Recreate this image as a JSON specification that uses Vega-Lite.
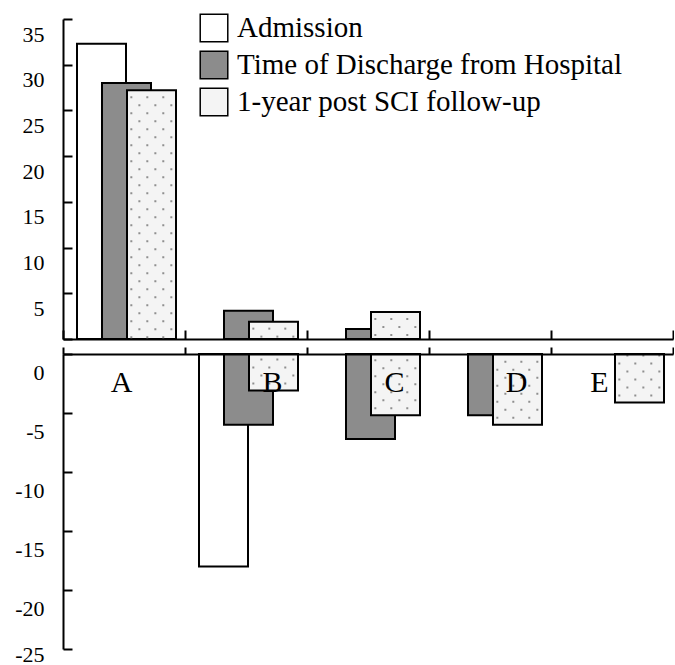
{
  "$schema": "https://vega.github.io/schema/vega-lite/v6.json",
  "padding": {"left": 14, "top": 13, "right": 0, "bottom": 0},
  "spacing": 6,
  "background": "white",
  "config": {
    "font": "Liberation Serif",
    "view": {"stroke": null},
    "axis": {"domainColor": "black", "tickColor": "black", "domainWidth": 2, "tickWidth": 2, "labelColor": "black", "labelFont": "Liberation Serif", "labelFontSize": 22, "grid": false, "title": null}
  },
  "datasets": {
    "bars": [
      {"group": "A", "series": "Admission", "value": 32.3},
      {"group": "B", "series": "Admission", "value": -18.0},
      {"group": "A", "series": "Time of Discharge from Hospital", "value": 28.0},
      {"group": "B", "series": "Time of Discharge from Hospital", "value": 3.1},
      {"group": "C", "series": "Time of Discharge from Hospital", "value": 1.1},
      {"group": "B", "series": "Time of Discharge from Hospital", "value": -6.0},
      {"group": "C", "series": "Time of Discharge from Hospital", "value": -7.2},
      {"group": "D", "series": "Time of Discharge from Hospital", "value": -5.2},
      {"group": "A", "series": "1-year post SCI follow-up", "value": 27.2},
      {"group": "B", "series": "1-year post SCI follow-up", "value": 1.9},
      {"group": "C", "series": "1-year post SCI follow-up", "value": 2.95},
      {"group": "B", "series": "1-year post SCI follow-up", "value": -3.1},
      {"group": "C", "series": "1-year post SCI follow-up", "value": -5.2},
      {"group": "D", "series": "1-year post SCI follow-up", "value": -6.0},
      {"group": "E", "series": "1-year post SCI follow-up", "value": -4.1}
    ]
  },
  "resolve": {"scale": {"y": "independent"}, "legend": {"fill": "independent"}},
  "vconcat": [
    {
      "width": 610,
      "height": 320,
      "data": {"name": "bars"},
      "transform": [{"filter": "datum.value > 0"}],
      "encoding": {
        "x": {"field": "group", "type": "nominal", "scale": {"domain": ["A", "B", "C", "D", "E"], "paddingInner": 0, "paddingOuter": 0},
              "axis": {"orient": "bottom", "labels": false, "tickBand": "extent", "tickSize": -9}},
        "y": {"field": "value", "type": "quantitative", "stack": null, "scale": {"domain": [0, 35], "nice": false},
              "axis": {"values": [0, 5, 10, 15, 20, 25, 30, 35], "labelExpr": "datum.value == 0 ? '' : datum.label", "tickSize": -9, "labelPadding": 28, "labelOffset": 15}}
      },
      "layer": [
        {
          "mark": {"type": "bar", "stroke": "black", "strokeWidth": 2, "width": 49},
          "encoding": {
            "xOffset": {"field": "series", "type": "nominal", "sort": ["Admission", "Time of Discharge from Hospital", "1-year post SCI follow-up"], "scale": {"range": [26, 101]}},
            "fill": {"field": "series", "type": "nominal", "sort": ["Admission", "Time of Discharge from Hospital", "1-year post SCI follow-up"],
                     "scale": {"domain": ["Admission", "Time of Discharge from Hospital", "1-year post SCI follow-up"], "range": ["#ffffff", "#8c8c8c", "#f4f4f4"]},
                     "legend": {"orient": "none", "legendX": 136, "legendY": -6, "title": null, "symbolType": "square", "symbolSize": 760, "symbolStrokeColor": "black", "symbolStrokeWidth": 1.5, "symbolOpacity": 1, "labelFontSize": 29, "labelFont": "Liberation Serif", "labelColor": "black", "rowPadding": 3, "labelOffset": 8, "labelLimit": 500}}
          }
        },
        {
          "transform": [{"filter": "datum.series == '1-year post SCI follow-up'"}],
          "mark": {"type": "rule", "color": "#8f8f8f", "strokeWidth": 2, "strokeDash": [2, 14], "strokeDashOffset": 10},
          "encoding": {"x": {"field": "group", "type": "nominal", "bandPosition": 0.56}, "y2": {"datum": 0}}
        },
        {
          "transform": [{"filter": "datum.series == '1-year post SCI follow-up'"}],
          "mark": {"type": "rule", "color": "#8f8f8f", "strokeWidth": 2, "strokeDash": [2, 14], "strokeDashOffset": 2},
          "encoding": {"x": {"field": "group", "type": "nominal", "bandPosition": 0.626}, "y2": {"datum": 0}}
        },
        {
          "transform": [{"filter": "datum.series == '1-year post SCI follow-up'"}],
          "mark": {"type": "rule", "color": "#8f8f8f", "strokeWidth": 2, "strokeDash": [2, 14], "strokeDashOffset": 10},
          "encoding": {"x": {"field": "group", "type": "nominal", "bandPosition": 0.691}, "y2": {"datum": 0}}
        },
        {
          "transform": [{"filter": "datum.series == '1-year post SCI follow-up'"}],
          "mark": {"type": "rule", "color": "#8f8f8f", "strokeWidth": 2, "strokeDash": [2, 14], "strokeDashOffset": 2},
          "encoding": {"x": {"field": "group", "type": "nominal", "bandPosition": 0.757}, "y2": {"datum": 0}}
        },
        {
          "transform": [{"filter": "datum.series == '1-year post SCI follow-up'"}],
          "mark": {"type": "rule", "color": "#8f8f8f", "strokeWidth": 2, "strokeDash": [2, 14], "strokeDashOffset": 10},
          "encoding": {"x": {"field": "group", "type": "nominal", "bandPosition": 0.822}, "y2": {"datum": 0}}
        },
        {
          "transform": [{"filter": "datum.series == '1-year post SCI follow-up'"}],
          "mark": {"type": "rule", "color": "#8f8f8f", "strokeWidth": 2, "strokeDash": [2, 14], "strokeDashOffset": 2},
          "encoding": {"x": {"field": "group", "type": "nominal", "bandPosition": 0.888}, "y2": {"datum": 0}}
        }
      ]
    },
    {
      "width": 610,
      "height": 295,
      "data": {"name": "bars"},
      "transform": [{"filter": "datum.value < 0"}],
      "encoding": {
        "x": {"field": "group", "type": "nominal", "scale": {"domain": ["A", "B", "C", "D", "E"], "paddingInner": 0, "paddingOuter": 0},
              "axis": {"orient": "top", "labels": true, "tickBand": "extent", "tickSize": 7, "zindex": 1, "labelFontSize": 30, "labelAngle": 0, "labelAlign": "center", "labelBaseline": "bottom", "labelPadding": -50,
                       "labelOffset": {"condition": [{"test": "datum.value == 'A'", "value": -3}, {"test": "datum.value == 'E'", "value": -13}], "value": 26}}},
        "y": {"field": "value", "type": "quantitative", "stack": null, "scale": {"domain": [-25, 0], "nice": false},
              "axis": {"values": [-25, -20, -15, -10, -5, 0], "labelExpr": "datum.value == 0 ? '0' : '-' + abs(datum.value)", "tickSize": -9, "labelPadding": 28, "labelOffset": {"condition": {"test": "datum.value == -25", "value": 5}, "value": 18}}}
      },
      "layer": [
        {
          "mark": {"type": "bar", "stroke": "black", "strokeWidth": 2, "width": 49},
          "encoding": {
            "xOffset": {"field": "series", "type": "nominal", "sort": ["Admission", "Time of Discharge from Hospital", "1-year post SCI follow-up"], "scale": {"range": [26, 101]}},
            "fill": {"field": "series", "type": "nominal", "sort": ["Admission", "Time of Discharge from Hospital", "1-year post SCI follow-up"],
                     "scale": {"domain": ["Admission", "Time of Discharge from Hospital", "1-year post SCI follow-up"], "range": ["#ffffff", "#8c8c8c", "#f4f4f4"]},
                     "legend": null}
          }
        },
        {
          "transform": [{"filter": "datum.series == '1-year post SCI follow-up'"}],
          "mark": {"type": "rule", "color": "#8f8f8f", "strokeWidth": 2, "strokeDash": [2, 14], "strokeDashOffset": 10},
          "encoding": {"x": {"field": "group", "type": "nominal", "bandPosition": 0.56}, "y2": {"datum": 0}}
        },
        {
          "transform": [{"filter": "datum.series == '1-year post SCI follow-up'"}],
          "mark": {"type": "rule", "color": "#8f8f8f", "strokeWidth": 2, "strokeDash": [2, 14], "strokeDashOffset": 2},
          "encoding": {"x": {"field": "group", "type": "nominal", "bandPosition": 0.626}, "y2": {"datum": 0}}
        },
        {
          "transform": [{"filter": "datum.series == '1-year post SCI follow-up'"}],
          "mark": {"type": "rule", "color": "#8f8f8f", "strokeWidth": 2, "strokeDash": [2, 14], "strokeDashOffset": 10},
          "encoding": {"x": {"field": "group", "type": "nominal", "bandPosition": 0.691}, "y2": {"datum": 0}}
        },
        {
          "transform": [{"filter": "datum.series == '1-year post SCI follow-up'"}],
          "mark": {"type": "rule", "color": "#8f8f8f", "strokeWidth": 2, "strokeDash": [2, 14], "strokeDashOffset": 2},
          "encoding": {"x": {"field": "group", "type": "nominal", "bandPosition": 0.757}, "y2": {"datum": 0}}
        },
        {
          "transform": [{"filter": "datum.series == '1-year post SCI follow-up'"}],
          "mark": {"type": "rule", "color": "#8f8f8f", "strokeWidth": 2, "strokeDash": [2, 14], "strokeDashOffset": 10},
          "encoding": {"x": {"field": "group", "type": "nominal", "bandPosition": 0.822}, "y2": {"datum": 0}}
        },
        {
          "transform": [{"filter": "datum.series == '1-year post SCI follow-up'"}],
          "mark": {"type": "rule", "color": "#8f8f8f", "strokeWidth": 2, "strokeDash": [2, 14], "strokeDashOffset": 2},
          "encoding": {"x": {"field": "group", "type": "nominal", "bandPosition": 0.888}, "y2": {"datum": 0}}
        }
      ]
    }
  ]
}
